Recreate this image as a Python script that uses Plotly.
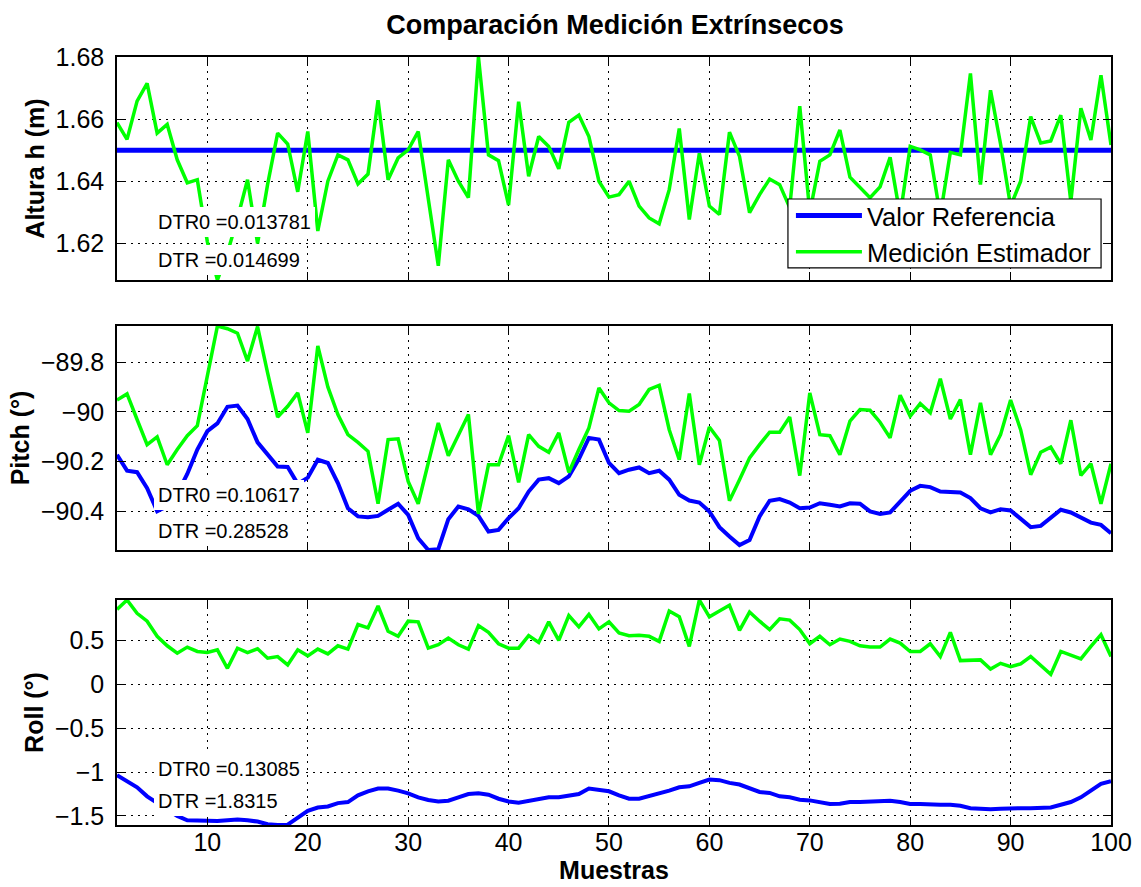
import plotly.graph_objects as go

# ---------------- data ----------------
muestras = list(range(1, 101))

altura_ref = [1.65] * 100
altura_est = [
    1.6589, 1.6535, 1.6658, 1.6715, 1.6555, 1.6583, 1.6469, 1.6395, 1.6405, 1.6205,
    1.6082, 1.6170, 1.6280, 1.6405, 1.6200, 1.6390, 1.6555, 1.6520, 1.6366, 1.6560,
    1.6240, 1.6400, 1.6485, 1.6469, 1.6391, 1.6423, 1.6661, 1.6405, 1.6475, 1.6501,
    1.6560, 1.6340, 1.6128, 1.6469, 1.6400, 1.6347, 1.6800, 1.6485, 1.6466, 1.6323,
    1.6656, 1.6416, 1.6544, 1.6512, 1.6440, 1.6590, 1.6613, 1.6544, 1.6400, 1.6349,
    1.6357, 1.6400, 1.6320, 1.6282, 1.6263, 1.6373, 1.6570, 1.6277, 1.6490, 1.6320,
    1.6293, 1.6558, 1.6480, 1.6299, 1.6357, 1.6407, 1.6389, 1.6315, 1.6642, 1.6300,
    1.6464, 1.6485, 1.6565, 1.6413, 1.6379, 1.6347, 1.6382, 1.6477, 1.6290, 1.6512,
    1.6501, 1.6485, 1.6290, 1.6493, 1.6485, 1.6747, 1.6389, 1.6693, 1.6520, 1.6320,
    1.6400, 1.6608, 1.6523, 1.6530, 1.6613, 1.6335, 1.6635, 1.6533, 1.6741, 1.6517,
]

pitch_ref = [
    -90.173, -90.237, -90.243, -90.307, -90.400, -90.380, -90.330, -90.250, -90.152, -90.078,
    -90.047, -89.980, -89.975, -90.029, -90.123, -90.169, -90.220, -90.222, -90.290, -90.265,
    -90.193, -90.206, -90.287, -90.388, -90.421, -90.424, -90.419, -90.394, -90.370, -90.415,
    -90.509, -90.556, -90.553, -90.432, -90.381, -90.392, -90.419, -90.482, -90.475, -90.428,
    -90.388, -90.321, -90.273, -90.267, -90.287, -90.260, -90.190, -90.105, -90.112, -90.206,
    -90.247, -90.233, -90.224, -90.247, -90.237, -90.273, -90.334, -90.357, -90.365, -90.401,
    -90.464, -90.502, -90.536, -90.516, -90.421, -90.358, -90.351, -90.365, -90.388, -90.385,
    -90.368, -90.374, -90.381, -90.368, -90.370, -90.401, -90.411, -90.405, -90.361, -90.318,
    -90.298, -90.303, -90.321, -90.321, -90.325, -90.347, -90.388, -90.405, -90.392, -90.397,
    -90.428, -90.464, -90.459, -90.428, -90.394, -90.405, -90.424, -90.446, -90.455, -90.489,
]
pitch_est = [
    -89.953, -89.928, -90.031, -90.132, -90.101, -90.213, -90.152, -90.096, -90.056, -89.856,
    -89.655, -89.666, -89.684, -89.796, -89.657, -89.843, -90.021, -89.978, -89.924, -90.085,
    -89.735, -89.900, -90.011, -90.092, -90.123, -90.159, -90.370, -90.112, -90.109, -90.280,
    -90.370, -90.206, -90.045, -90.177, -90.092, -90.011, -90.411, -90.213, -90.213, -90.096,
    -90.284, -90.092, -90.139, -90.163, -90.085, -90.244, -90.152, -90.065, -89.904, -89.964,
    -89.995, -89.998, -89.971, -89.910, -89.894, -90.072, -90.193, -89.926, -90.213, -90.061,
    -90.115, -90.358, -90.273, -90.186, -90.132, -90.082, -90.082, -90.021, -90.257, -89.924,
    -90.092, -90.096, -90.173, -90.038, -89.991, -89.994, -90.042, -90.105, -89.933, -90.018,
    -89.967, -90.004, -89.867, -90.029, -89.951, -90.173, -89.964, -90.173, -90.092, -89.953,
    -90.072, -90.253, -90.163, -90.142, -90.209, -90.034, -90.256, -90.209, -90.370, -90.209,
]

roll_ref = [
    -1.035, -1.104, -1.173, -1.277, -1.350, -1.430, -1.500, -1.550, -1.554, -1.558,
    -1.558, -1.550, -1.542, -1.550, -1.565, -1.596, -1.604, -1.600, -1.515, -1.442,
    -1.404, -1.392, -1.354, -1.342, -1.265, -1.219, -1.188, -1.188, -1.212, -1.242,
    -1.288, -1.319, -1.335, -1.327, -1.288, -1.250, -1.242, -1.258, -1.304, -1.335,
    -1.350, -1.327, -1.304, -1.288, -1.288, -1.265, -1.250, -1.188, -1.200, -1.219,
    -1.265, -1.304, -1.304, -1.277, -1.250, -1.212, -1.173, -1.162, -1.123, -1.085,
    -1.092, -1.123, -1.142, -1.188, -1.227, -1.238, -1.277, -1.288, -1.315, -1.323,
    -1.342, -1.365, -1.362, -1.342, -1.342, -1.335, -1.335, -1.327, -1.342, -1.365,
    -1.365, -1.373, -1.373, -1.373, -1.385, -1.412, -1.423, -1.423, -1.419, -1.412,
    -1.412, -1.412, -1.412, -1.404, -1.373, -1.342, -1.288, -1.212, -1.135, -1.104,
]
roll_est = [
    0.858, 0.965, 0.812, 0.723, 0.550, 0.442, 0.358, 0.427, 0.377, 0.365,
    0.396, 0.185, 0.415, 0.365, 0.408, 0.300, 0.319, 0.223, 0.396, 0.327,
    0.404, 0.350, 0.442, 0.404, 0.685, 0.646, 0.896, 0.608, 0.550, 0.723,
    0.715, 0.415, 0.454, 0.531, 0.454, 0.404, 0.673, 0.596, 0.465, 0.415,
    0.415, 0.558, 0.481, 0.715, 0.504, 0.788, 0.658, 0.800, 0.635, 0.715,
    0.588, 0.558, 0.562, 0.550, 0.492, 0.838, 0.773, 0.435, 0.965, 0.773,
    0.838, 0.904, 0.619, 0.827, 0.723, 0.627, 0.750, 0.735, 0.627, 0.465,
    0.550, 0.454, 0.519, 0.492, 0.442, 0.427, 0.427, 0.519, 0.473, 0.377,
    0.377, 0.465, 0.319, 0.596, 0.273, 0.273, 0.281, 0.177, 0.242, 0.204,
    0.235, 0.319, 0.212, 0.115, 0.377, 0.338, 0.292, 0.435, 0.569, 0.319,
]

x_ticks = [10, 20, 30, 40, 50, 60, 70, 80, 90, 100]
altura_ticks = [1.62, 1.64, 1.66, 1.68]
pitch_ticks = [-90.4, -90.2, -90.0, -89.8]
pitch_ticktext = ["\u221290.4", "\u221290.2", "\u221290", "\u221289.8"]
roll_ticks = [-1.5, -1.0, -0.5, 0.0, 0.5]
roll_ticktext = ["\u22121.5", "\u22121", "\u22120.5", "0", "0.5"]

dtr_texts = [
    ["DTR0 =0.013781", "DTR =0.014699"],
    ["DTR0 =0.10617", "DTR =0.28528"],
    ["DTR0 =0.13085", "DTR =1.8315"],
]

titulo = "Comparación Medición Extrínsecos"
ylabels = ["Altura h (m)", "Pitch (°)", "Roll (°)"]
leyenda = ["Valor Referencia", "Medición Estimador"]

# ---------------- figure ----------------
BLUE = "#0000FF"
GREEN = "#00FF00"
FONT = "Liberation Sans, Arial, sans-serif"

fig = go.Figure()

series = [
    (altura_ref, altura_est, 5),
    (pitch_ref, pitch_est, 4),
    (roll_ref, roll_est, 4),
]
for i, (ref, est, bw) in enumerate(series):
    ax = "" if i == 0 else str(i + 1)
    fig.add_trace(go.Scatter(x=muestras, y=ref, mode="lines", name=leyenda[0],
                             line=dict(color=BLUE, width=bw),
                             xaxis="x" + ax, yaxis="y" + ax,
                             showlegend=(i == 0), legendgroup="ref"))
    fig.add_trace(go.Scatter(x=muestras, y=est, mode="lines", name=leyenda[1],
                             line=dict(color=GREEN, width=3.5),
                             xaxis="x" + ax, yaxis="y" + ax,
                             showlegend=(i == 0), legendgroup="est"))

domains = [[0.7096, 1.0], [0.3581, 0.6497], [0.0, 0.2930]]
tickinfo = [
    (altura_ticks, [f"{v:.2f}" for v in altura_ticks]),
    (pitch_ticks, pitch_ticktext),
    (roll_ticks, roll_ticktext),
]

common = dict(
    showline=True, linecolor="black", linewidth=1.5, mirror="ticks",
    ticks="inside", ticklen=8, tickcolor="black", tickwidth=1,
    showgrid=True, gridcolor="black", gridwidth=1, griddash="2px,5px",
    zeroline=False, automargin=False,
    tickfont=dict(family=FONT, size=25, color="black"),
)

layout = {}
for i in range(3):
    ax = "" if i == 0 else str(i + 1)
    ref, est, _ = series[i]
    vals = list(ref) + list(est)
    xa = dict(common)
    xa.update(domain=[0, 1], range=[1, 100], tickvals=x_ticks,
              anchor="y" + ax, showticklabels=(i == 2), ticklabelstandoff=-6)
    if i == 2:
        xa["title"] = dict(text="Muestras", standoff=0,
                           font=dict(family=FONT, size=25, color="black", weight="bold"))
    ya = dict(common)
    ya.update(domain=domains[i], range=[min(vals), max(vals)],
              tickvals=tickinfo[i][0], ticktext=tickinfo[i][1],
              anchor="x" + ax, ticklabelstandoff=6,
              title=dict(text=ylabels[i], standoff=4,
                         font=dict(family=FONT, size=25, color="black", weight="bold")))
    layout["xaxis" + ax] = xa
    layout["yaxis" + ax] = ya

annotations = []
ypos = [[0.260, 0.092], [0.2455, 0.085], [0.249, 0.107]]
for i in range(3):
    ax = "" if i == 0 else str(i + 1)
    for j in range(2):
        annotations.append(dict(
            text=dtr_texts[i][j], xref="x" + ax + " domain", yref="y" + ax + " domain",
            x=0.037, y=ypos[i][j], xanchor="left", yanchor="middle",
            showarrow=False, bgcolor="white", borderpad=4, borderwidth=0,
            font=dict(family=FONT, size=20, color="black"),
        ))

# legend frame (white box with black border, as in the reference)
legend_box = dict(type="rect", xref="paper", yref="paper",
                  x0=0.675, x1=0.990, y0=0.7253, y1=0.8151,
                  fillcolor="white", line=dict(color="black", width=1.2), layer="above")

fig.update_layout(
    **layout,
    width=1141, height=887,
    margin=dict(l=117, r=30, t=57, b=62, autoexpand=False),
    paper_bgcolor="white", plot_bgcolor="white",
    title=dict(text=titulo, x=0.539, xanchor="center", y=1 - 25 / 887, yanchor="middle",
               yref="container",
               font=dict(family=FONT, size=27, color="black", weight="bold")),
    legend=dict(x=0.678, xanchor="left", y=0.7695, yanchor="middle",
                bgcolor="rgba(0,0,0,0)", borderwidth=0,
                font=dict(family=FONT, size=25.5, color="black"),
                itemwidth=66, tracegroupgap=0),
    shapes=[legend_box],
    annotations=annotations,
    showlegend=True,
)

fig.write_html("out.html")
